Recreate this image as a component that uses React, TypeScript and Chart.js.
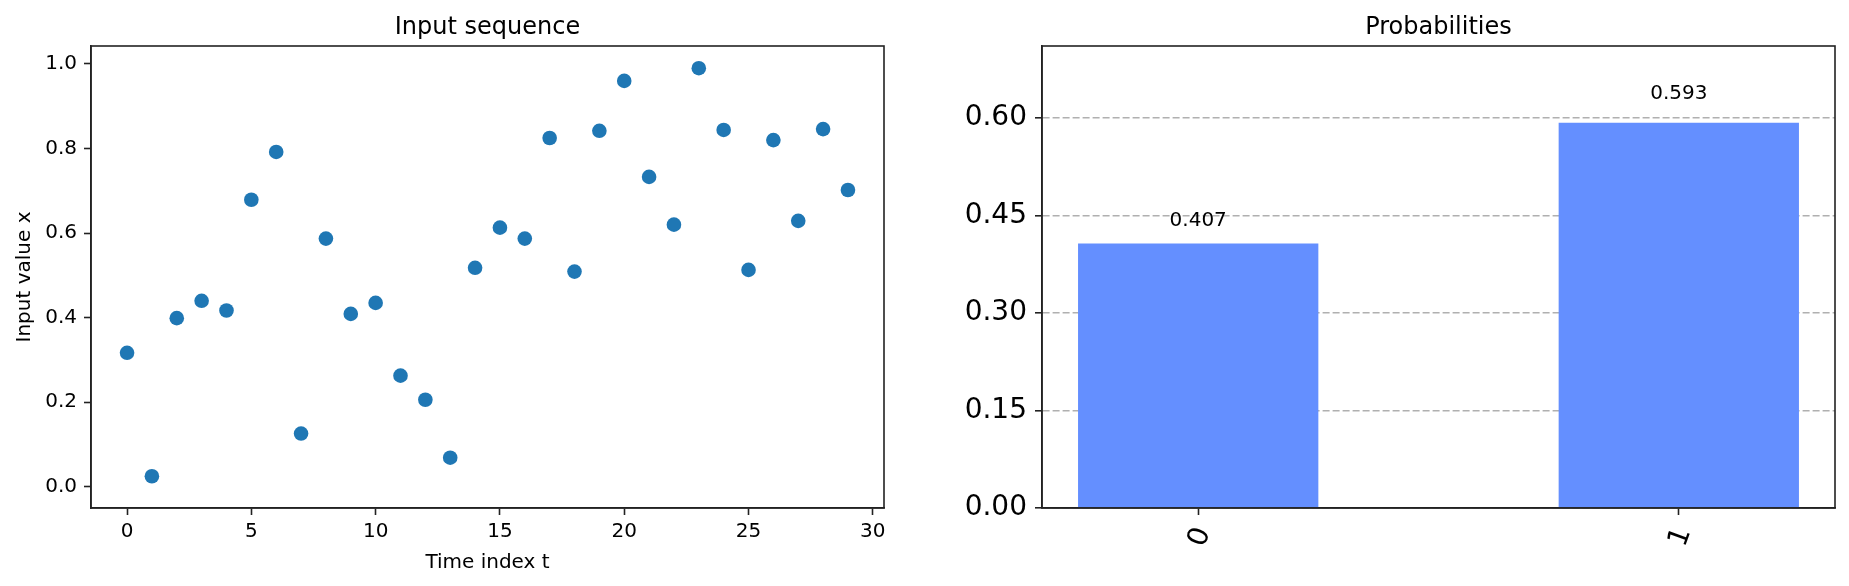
import React, { useEffect, useRef } from 'react';
import { Chart, registerables } from 'chart.js';

Chart.register(...registerables);

// ---------- data ----------
const timeIndex = [
  0, 1, 2, 3, 4, 5, 6, 7, 8, 9, 10, 11, 12, 13, 14,
  15, 16, 17, 18, 19, 20, 21, 22, 23, 24, 25, 26, 27, 28, 29,
];
const inputValues = [
  0.317, 0.025, 0.399, 0.44, 0.417, 0.679, 0.792, 0.126, 0.587, 0.409,
  0.435, 0.263, 0.206, 0.069, 0.518, 0.613, 0.587, 0.825, 0.509, 0.842,
  0.96, 0.733, 0.62, 0.99, 0.844, 0.513, 0.82, 0.629, 0.846, 0.702,
];
const leftXTicks = [0, 5, 10, 15, 20, 25, 30];
const leftYTicks = [0.0, 0.2, 0.4, 0.6, 0.8, 1.0];

const states = ['0', '1'];
const probabilities = [0.407, 0.593];
const rightYTicks = [0.0, 0.15, 0.3, 0.45, 0.6];

// ---------- styles ----------
const FONT = "'DejaVu Sans', sans-serif";
const SPINE = '#222222';
const POINT_COLOR = '#1f77b4';
const BAR_COLOR = '#648fff';

Chart.defaults.font.family = FONT;
Chart.defaults.color = '#000000';

const spinesPlugin = {
  id: 'spines',
  afterDraw(chart: any) {
    const { ctx, chartArea } = chart;
    ctx.save();
    ctx.strokeStyle = SPINE;
    ctx.lineWidth = 1.6;
    ctx.setLineDash([]);
    ctx.strokeRect(chartArea.left, chartArea.top, chartArea.right - chartArea.left, chartArea.bottom - chartArea.top);
    ctx.restore();
  },
};

const barLabelPlugin = {
  id: 'barLabels',
  afterDatasetsDraw(chart: any) {
    const { ctx } = chart;
    const meta = chart.getDatasetMeta(0);
    const yScale = chart.scales.y;
    ctx.save();
    ctx.fillStyle = '#000';
    ctx.font = `20px ${FONT}`;
    ctx.textAlign = 'center';
    ctx.textBaseline = 'alphabetic';
    meta.data.forEach((el: any, i: number) => {
      const v = probabilities[i];
      const y = yScale.getPixelForValue(v * 1.05);
      ctx.fillText(v.toFixed(3), el.x, y - 4);
    });
    ctx.restore();
  },
};

function fixWidth(w: number) {
  return (scale: any) => {
    scale.width = w;
  };
}
function fixHeight(h: number) {
  return (scale: any) => {
    scale.height = h;
  };
}

const titlePadding = { top: 13, bottom: 4.2 };

function LeftChart() {
  const ref = useRef<HTMLCanvasElement>(null);
  useEffect(() => {
    const chart = new Chart(ref.current!, {
      type: 'scatter',
      data: {
        datasets: [
          {
            data: timeIndex.map((t, i) => ({ x: t, y: inputValues[i] })),
            backgroundColor: POINT_COLOR,
            borderColor: POINT_COLOR,
            pointRadius: 7.3,
            pointBorderWidth: 0,
          },
        ],
      },
      options: {
        responsive: false,
        animation: false,
        devicePixelRatio: 1,
        layout: { padding: { left: 0, right: 41, top: 0, bottom: 0 } },
        plugins: {
          legend: { display: false },
          tooltip: { enabled: false },
          title: {
            display: true,
            text: 'Input sequence',
            fullSize: false,
            color: '#000',
            font: { size: 24, weight: 'normal', family: FONT },
            padding: titlePadding,
          },
        },
        scales: {
          x: {
            type: 'linear',
            min: -1.45,
            max: 30.45,
            afterBuildTicks: (s: any) => {
              s.ticks = leftXTicks.map((v) => ({ value: v }));
            },
            afterFit: fixHeight(78),
            ticks: {
              color: '#000',
              font: { size: 20, family: FONT },
              padding: 5,
              maxRotation: 0,
              autoSkip: false,
              callback: (v: any) => String(v),
            },
            grid: {
              drawOnChartArea: false,
              drawTicks: true,
              tickLength: 7,
              tickColor: SPINE,
              tickWidth: 1.6,
            },
            border: { display: true, color: SPINE, width: 1.6 },
            title: {
              display: true,
              text: 'Time index t',
              color: '#000',
              font: { size: 20, family: FONT },
              padding: 11.6,
            },
          },
          y: {
            type: 'linear',
            min: -0.05,
            max: 1.0425,
            afterBuildTicks: (s: any) => {
              s.ticks = leftYTicks.map((v) => ({ value: v }));
            },
            afterFit: fixWidth(91),
            ticks: {
              color: '#000',
              font: { size: 20, family: FONT },
              padding: 7,
              autoSkip: false,
              callback: (v: any) => Number(v).toFixed(1),
            },
            grid: {
              drawOnChartArea: false,
              drawTicks: true,
              tickLength: 7,
              tickColor: SPINE,
              tickWidth: 1.6,
            },
            border: { display: true, color: SPINE, width: 1.6 },
            title: {
              display: true,
              text: 'Input value x',
              color: '#000',
              font: { size: 20, family: FONT },
              padding: 13,
            },
          },
        },
      },
      plugins: [spinesPlugin],
    } as any);
    return () => chart.destroy();
  }, []);
  return <canvas ref={ref} width={925} height={586} style={{ width: 925, height: 586, display: 'block' }} />;
}

function RightChart() {
  const ref = useRef<HTMLCanvasElement>(null);
  useEffect(() => {
    const chart = new Chart(ref.current!, {
      type: 'bar',
      data: {
        datasets: [
          {
            data: states.map((_, i) => ({ x: i, y: probabilities[i] })),
            backgroundColor: BAR_COLOR,
            borderWidth: 0,
            barPercentage: 0.5,
            categoryPercentage: 1,
          },
        ],
      },
      options: {
        responsive: false,
        animation: false,
        devicePixelRatio: 1,
        layout: { padding: { left: 0, right: 14, top: 0, bottom: 0 } },
        plugins: {
          legend: { display: false },
          tooltip: { enabled: false },
          title: {
            display: true,
            text: 'Probabilities',
            fullSize: false,
            color: '#000',
            font: { size: 24, weight: 'normal', family: FONT },
            padding: titlePadding,
          },
        },
        scales: {
          x: {
            type: 'linear',
            offset: false,
            min: -0.325,
            max: 1.325,
            afterBuildTicks: (s: any) => {
              s.ticks = states.map((_, i) => ({ value: i }));
            },
            afterFit: fixHeight(78),
            ticks: {
              color: '#000',
              font: { size: 28, family: FONT },
              padding: 8,
              labelOffset: 5,
              minRotation: 70,
              maxRotation: 70,
              autoSkip: false,
              callback: (v: any) => states[Number(v)] ?? '',
            },
            grid: {
              offset: false,
              drawOnChartArea: false,
              drawTicks: true,
              tickLength: 7,
              tickColor: SPINE,
              tickWidth: 1.6,
            },
            border: { display: true, color: SPINE, width: 1.6 },
          },
          y: {
            type: 'linear',
            min: 0,
            max: 0.711,
            afterBuildTicks: (s: any) => {
              s.ticks = rightYTicks.map((v) => ({ value: v }));
            },
            afterFit: fixWidth(117),
            ticks: {
              color: '#000',
              font: { size: 28, family: FONT },
              padding: 8,
              autoSkip: false,
              callback: (v: any) => Number(v).toFixed(2),
            },
            grid: {
              drawOnChartArea: true,
              drawTicks: true,
              tickLength: 7,
              color: '#b0b0b0',
              lineWidth: 1.6,
              tickColor: SPINE,
              tickWidth: 1.6,
              tickBorderDash: [],
            },
            border: { display: true, color: SPINE, width: 1.6, dash: [7, 3] },
          },
        },
      },
      plugins: [spinesPlugin, barLabelPlugin],
    } as any);
    return () => chart.destroy();
  }, []);
  return <canvas ref={ref} width={924} height={586} style={{ width: 924, height: 586, display: 'block' }} />;
}

export default function App() {
  return (
    <div
      style={{
        position: 'absolute',
        left: 0,
        top: 0,
        width: 1849,
        height: 586,
        overflow: 'hidden',
        background: '#ffffff',
        display: 'flex',
        flexDirection: 'row',
      }}
    >
      <LeftChart />
      <RightChart />
    </div>
  );
}
